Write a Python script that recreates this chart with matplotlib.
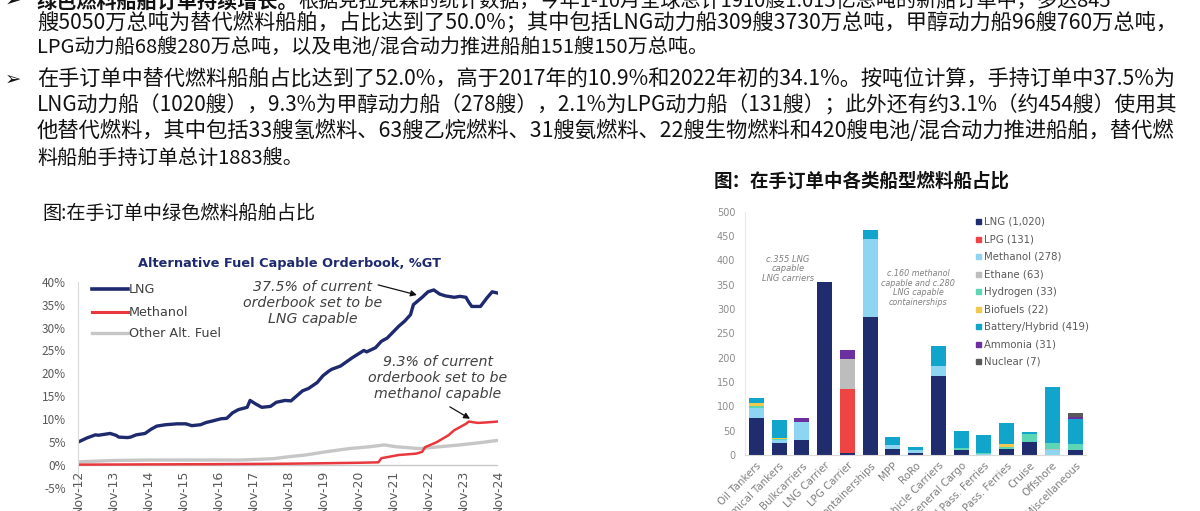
import numpy as np
import matplotlib.pyplot as plt
from matplotlib.patches import Rectangle
from matplotlib.lines import Line2D
from matplotlib.transforms import Bbox, TransformedBbox, offset_copy

plt.rcParams['font.family'] = ['Noto Sans CJK SC', 'DejaVu Sans']

W, H = 1200, 511


def fx(x):
    return x / W


def fy(y):
    return 1 - y / H


# ---------------- body text ----------------
bullet_1_bold = "绿色燃料船舶订单持续增长。"
bullet_1_rest = "根据克拉克森的统计数据，今年1-10月全球总计1910艘1.015亿总吨的新船订单中，多达845"
para_lines = [
    "艘5050万总吨为替代燃料船舶，占比达到了50.0%；其中包括LNG动力船309艘3730万总吨，甲醇动力船96艘760万总吨，",
    "LPG动力船68艘280万总吨，以及电池/混合动力推进船舶151艘150万总吨。",
    "在手订单中替代燃料船舶占比达到了52.0%，高于2017年的10.9%和2022年初的34.1%。按吨位计算，手持订单中37.5%为",
    "LNG动力船（1020艘），9.3%为甲醇动力船（278艘），2.1%为LPG动力船（131艘）；此外还有约3.1%（约454艘）使用其",
    "他替代燃料，其中包括33艘氢燃料、63艘乙烷燃料、31艘氨燃料、22艘生物燃料和420艘电池/混合动力推进船舶，替代燃",
    "料船舶手持订单总计1883艘。",
]
line_y = [22, 48, 79, 105, 131, 158]
justified = [True, False, True, True, True, False]
bullet_rows = [0, 79]

# ---------------- left chart data (% of orderbook GT) ----------------
year_labels = ['Nov-12', 'Nov-13', 'Nov-14', 'Nov-15', 'Nov-16', 'Nov-17', 'Nov-18',
               'Nov-19', 'Nov-20', 'Nov-21', 'Nov-22', 'Nov-23', 'Nov-24']

lng_months = [0, 3, 6, 7, 11, 13, 14, 17, 18, 20, 23, 25, 27, 30, 34, 37, 39, 42, 44, 46,
              49, 51, 53, 55, 58, 59, 61, 63, 66, 68, 71, 73, 75, 77, 79, 82, 84, 86, 87, 90,
              92, 94, 96, 98, 99, 102, 104, 106, 108, 110, 112, 114, 115, 118, 120, 122, 124,
              126, 129, 131, 133, 134, 135, 138, 140, 142, 144]
lng_share = [5.0, 5.9, 6.6, 6.5, 6.9, 6.5, 6.1, 6.0, 6.1, 6.6, 6.9, 7.8, 8.5, 8.8, 9.0, 9.0,
             8.6, 8.8, 9.3, 9.6, 10.1, 10.2, 11.4, 12.1, 12.6, 14.1, 13.3, 12.6, 12.8, 13.7,
             14.1, 14.0, 15.1, 16.2, 16.7, 18.0, 19.5, 20.5, 20.9, 21.6, 22.5, 23.4, 24.2,
             25.0, 24.7, 25.6, 27.0, 27.7, 29.0, 30.3, 31.4, 32.8, 35.0, 36.6, 37.8, 38.2,
             37.3, 36.9, 36.6, 36.8, 36.6, 35.5, 34.6, 34.6, 36.3, 37.8, 37.5]

meth_months = [0, 24, 48, 72, 96, 103, 104, 110, 116, 118, 119, 123, 127, 129, 133, 134,
               137, 140, 144]
meth_share = [0.1, 0.15, 0.2, 0.3, 0.5, 0.6, 1.5, 2.2, 2.5, 2.9, 3.9, 5.0, 6.5, 7.6, 9.0,
              9.5, 9.2, 9.3, 9.5]

other_months = [0, 12, 24, 36, 48, 56, 67, 72, 78, 85, 93, 100, 105, 109, 117, 124, 131,
                138, 144]
other_share = [0.7, 1.0, 1.1, 1.1, 1.1, 1.1, 1.4, 1.8, 2.2, 2.9, 3.6, 4.0, 4.4, 4.0, 3.6,
               4.0, 4.4, 4.9, 5.4]

# ---------------- right chart data (number of ships) ----------------
ship_types = ['Oil Tankers', 'Chemical Tankers', 'Bulkcarriers', 'LNG Carrier',
              'LPG Carrier', 'Containerships', 'MPP', 'RoRo', 'Vehicle Carriers',
              'General Cargo', 'Small Pass. Ferries', 'Large Pass. Ferries', 'Cruise',
              'Offshore', 'Miscellaneous']
fuel_names = ['LNG (1,020)', 'LPG (131)', 'Methanol (278)', 'Ethane (63)', 'Hydrogen (33)',
              'Biofuels (22)', 'Battery/Hybrid (419)', 'Ammonia (31)', 'Nuclear (7)']
lng_ships = [77, 24, 30, 355, 4, 283, 12, 5, 162, 11, 0, 13, 27, 0, 11]
lpg_ships = [0, 0, 0, 0, 131, 0, 0, 0, 0, 0, 0, 0, 0, 0, 0]
methanol_ships = [19, 6, 38, 0, 0, 160, 8, 5, 20, 0, 2, 0, 0, 11, 0]
ethane_ships = [0, 0, 0, 0, 63, 0, 0, 0, 0, 0, 0, 0, 0, 2, 0]
hydrogen_ships = [4, 2, 0, 0, 0, 0, 0, 0, 0, 3, 2, 4, 16, 12, 12]
biofuel_ships = [6, 3, 0, 0, 0, 0, 0, 0, 0, 0, 0, 5, 0, 0, 0]
battery_ships = [11, 37, 0, 0, 0, 19, 17, 7, 42, 35, 38, 44, 4, 114, 52]
ammonia_ships = [0, 0, 9, 0, 17, 0, 0, 0, 0, 0, 0, 0, 0, 0, 4]
nuclear_ships = [0, 0, 0, 0, 0, 0, 0, 0, 0, 0, 0, 0, 0, 0, 7]

fuel_colors = ['#1F2C6E', '#EE4444', '#8ED5F2', '#BDBDBD', '#5DD6B6', '#F2C94C',
               '#12A5CB', '#6B2FA0', '#595959']

fig = plt.figure(figsize=(12, 5.11), dpi=100)
renderer = fig.canvas.get_renderer()

# ---------------- paragraphs ----------------
for y in bullet_rows:
    fig.text(fx(5), fy(y), '➢', fontsize=14, family=['DejaVu Sans'], va='center', color='#111111')

t_bold = fig.text(fx(37), fy(1), bullet_1_bold, fontsize=14.5, weight='bold', va='center', color='#111111')
bb = t_bold.get_window_extent(renderer)
fig.text(bb.x1 / W, fy(1), bullet_1_rest, fontsize=14.5, va='center', color='#111111')

for txt, y, just in zip(para_lines, line_y, justified):
    t = fig.text(fx(37), fy(y), txt, fontsize=14.5, va='center', color='#111111')
    if just:
        w = t.get_window_extent(renderer).width
        t.set_fontsize(14.5 * (1176 - 37) / w)

# ---------------- left chart ----------------
fig.text(fx(42), fy(213), '图:在手订单中绿色燃料船舶占比', fontsize=13.8, va='center', color='#111111')

ax1 = fig.add_axes([fx(78), fy(488), 420 / W, (488 - 281.7) / H])
ax1.plot(other_months, other_share, color='#C6C6C6', lw=2.4, solid_capstyle='butt')
ax1.plot(meth_months, meth_share, color='#E8383D', lw=1.8)
ax1.plot(lng_months, lng_share, color='#1F2A6E', lw=2.4)
ax1.axhline(0, color='#C8C8C8', lw=1, zorder=0)
ax1.set_xlim(0, 144)
ax1.set_ylim(-5, 40)
yt = list(range(-5, 41, 5))
ax1.set_yticks(yt)
ax1.set_yticklabels([f'{v}%' for v in yt])
ax1.tick_params(axis='y', length=0, pad=8.6, labelsize=8.5, labelcolor='#595959')
ax1.set_xticks([])
for s in ['top', 'right', 'bottom']:
    ax1.spines[s].set_visible(False)
ax1.spines['left'].set_color('#DADADA')
ax1.spines['left'].set_linewidth(0.8)
ax1.patch.set_alpha(0)

lab_tr = offset_copy(ax1.transData, fig=fig, x=0, y=-5, units='dots')
for i, lab in enumerate(year_labels):
    ax1.text(i * 12, 0, lab, transform=lab_tr, rotation=90, ha='center', va='top',
             fontsize=9, color='#595959', family=['DejaVu Sans'], clip_on=False)

fig.text(fx(290), fy(264), 'Alternative Fuel Capable Orderbook, %GT', ha='center', va='center',
         fontsize=9.3, weight='bold', color='#1F2A6E', family=['DejaVu Sans'])

leg_rows = [289, 312, 333]
leg_labels = ['LNG', 'Methanol', 'Other Alt. Fuel']
leg_colors = ['#1F2A6E', '#E8383D', '#C6C6C6']
leg_lw = [2.6, 2.2, 2.4]
for y, lab, c, lw in zip(leg_rows, leg_labels, leg_colors, leg_lw):
    fig.add_artist(Line2D([fx(92), fx(128)], [fy(y), fy(y)], color=c, lw=lw))
    fig.text(fx(129), fy(y), lab, va='center', fontsize=9.2, color='#404040', family=['DejaVu Sans'])

fig.text(fx(313), fy(303), '37.5% of current\norderbook set to be\nLNG capable', ha='center',
         va='center', fontsize=10.2, style='italic', color='#404040', family=['DejaVu Sans'])
ax1.annotate('', xy=(116.2, 37.1), xytext=(102.9, 39.3),
             arrowprops=dict(arrowstyle='-|>', color='#111111', lw=0.9, mutation_scale=9,
                             shrinkA=0, shrinkB=0))

t_m = fig.text(fx(438), fy(378), '9.3% of current\norderbook set to be\nmethanol capable',
               ha='center', va='center', fontsize=10.2, style='italic', color='#404040',
               family=['DejaVu Sans'])
t_m.set_clip_box(TransformedBbox(Bbox([[0, 0], [fx(512), 1]]), fig.transFigure))
t_m.set_clip_on(True)
ax1.annotate('', xy=(134.4, 10.1), xytext=(127.5, 12.7),
             arrowprops=dict(arrowstyle='-|>', color='#111111', lw=0.9, mutation_scale=9,
                             shrinkA=0, shrinkB=0))

# ---------------- right chart ----------------
fig.text(fx(714), fy(181), '图：在手订单中各类船型燃料船占比', fontsize=13.3, va='center',
         weight='bold', color='#111111')

ax2 = fig.add_axes([fx(745), fy(455), 341.4 / W, 243.3 / H])
series = [lng_ships, lpg_ships, methanol_ships, ethane_ships, hydrogen_ships,
          biofuel_ships, battery_ships, ammonia_ships, nuclear_ships]
x = np.arange(len(ship_types))
bottom = np.zeros(len(ship_types))
for vals, c in zip(series, fuel_colors):
    vals = np.array(vals, dtype=float)
    ax2.bar(x, vals, 0.66, bottom=bottom, color=c, linewidth=0)
    bottom += vals
ax2.set_xlim(-0.5, len(ship_types) - 0.5)
ax2.set_ylim(0, 500)
ax2.set_yticks(range(0, 501, 50))
ax2.tick_params(axis='y', length=0, pad=7, labelsize=7, labelcolor='#8C8C8C')
ax2.set_xticks(x)
ax2.set_xticklabels(ship_types, rotation=45, ha='right', rotation_mode='anchor')
ax2.tick_params(axis='x', length=0, pad=4, labelsize=7.4, labelcolor='#7F7F7F')
for lab in ax2.get_xticklabels() + ax2.get_yticklabels():
    lab.set_family(['DejaVu Sans'])
for s in ['top', 'right']:
    ax2.spines[s].set_visible(False)
ax2.spines['left'].set_color('#E8E8E8')
ax2.spines['bottom'].set_color('#D9D9D9')
ax2.patch.set_alpha(0)

for i, (lab, c) in enumerate(zip(fuel_names, fuel_colors)):
    y = 221.7 + 17.5 * i
    fig.add_artist(Rectangle((fx(976), fy(y + 2.5)), 5 / W, 5 / H, color=c,
                             transform=fig.transFigure))
    fig.text(fx(984), fy(y), lab, va='center', fontsize=7.3, color='#595959',
             family=['DejaVu Sans'])

fig.text(fx(788), fy(268.7), 'c.355 LNG\ncapable\nLNG carriers', ha='center', va='center',
         fontsize=6, style='italic', color='#808080', family=['DejaVu Sans'], linespacing=1.1)
fig.text(fx(918), fy(288), 'c.160 methanol\ncapable and c.280\nLNG capable\ncontainerships',
         ha='center', va='center', fontsize=5.8, style='italic', color='#808080',
         family=['DejaVu Sans'], linespacing=1.1)

fig.savefig('out.png', dpi=100, facecolor='white')
